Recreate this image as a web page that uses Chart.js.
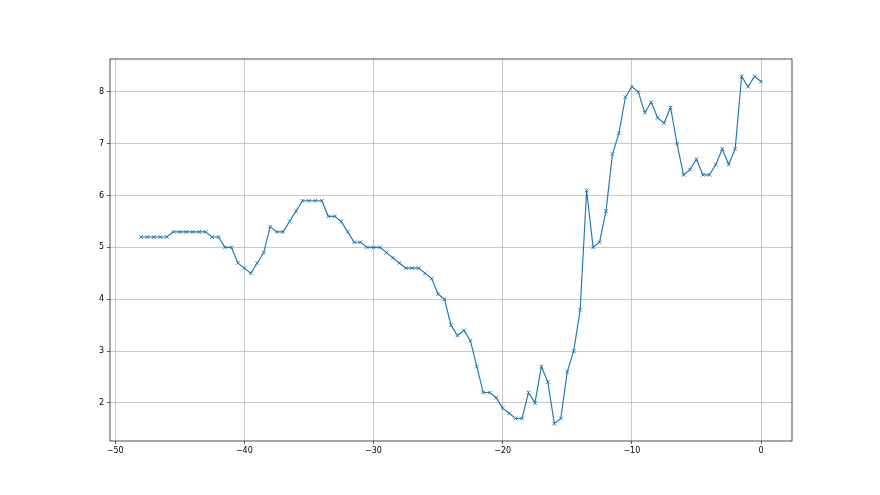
<!DOCTYPE html>
<html>
<head>
<meta charset="utf-8">
<script src="https://cdn.jsdelivr.net/npm/chart.js@4"></script>
<style>
  html, body { margin: 0; padding: 0; background: #fff; }
  #c { display: block; }
</style>
</head>
<body>
<canvas id="c" width="880" height="495"></canvas>
<script>
// values, x every 0.5 from -48 to 0
const xValues = [
  -48, -47.5, -47, -46.5, -46, -45.5, -45, -44.5, -44, -43.5,
  -43, -42.5, -42, -41.5, -41, -40.5, -40, -39.5, -39, -38.5,
  -38, -37.5, -37, -36.5, -36, -35.5, -35, -34.5, -34, -33.5,
  -33, -32.5, -32, -31.5, -31, -30.5, -30, -29.5, -29, -28.5,
  -28, -27.5, -27, -26.5, -26, -25.5, -25, -24.5, -24, -23.5,
  -23, -22.5, -22, -21.5, -21, -20.5, -20, -19.5, -19, -18.5,
  -18, -17.5, -17, -16.5, -16, -15.5, -15, -14.5, -14, -13.5,
  -13, -12.5, -12, -11.5, -11, -10.5, -10, -9.5, -9, -8.5,
  -8, -7.5, -7, -6.5, -6, -5.5, -5, -4.5, -4, -3.5,
  -3, -2.5, -2, -1.5, -1, -0.5, 0
];
const yValues = [
  5.2, 5.2, 5.2, 5.2, 5.2, 5.3, 5.3, 5.3, 5.3, 5.3,
  5.3, 5.2, 5.2, 5.0, 5.0, 4.7, 4.6, 4.5, 4.7, 4.9,
  5.4, 5.3, 5.3, 5.5, 5.7, 5.9, 5.9, 5.9, 5.9, 5.6,
  5.6, 5.5, 5.3, 5.1, 5.1, 5.0, 5.0, 5.0, 4.9, 4.8,
  4.7, 4.6, 4.6, 4.6, 4.5, 4.4, 4.1, 4.0, 3.5, 3.3,
  3.4, 3.2, 2.7, 2.2, 2.2, 2.1, 1.9, 1.8, 1.7, 1.7,
  2.2, 2.0, 2.7, 2.4, 1.6, 1.7, 2.6, 3.0, 3.8, 6.1,
  5.0, 5.1, 5.7, 6.8, 7.2, 7.9, 8.1, 8.0, 7.6, 7.8,
  7.5, 7.4, 7.7, 7.0, 6.4, 6.5, 6.7, 6.4, 6.4, 6.6,
  6.9, 6.6, 6.9, 8.3, 8.1, 8.3, 8.2
];
const xTicks = [-50, -40, -30, -20, -10, 0];
const yTicks = [2, 3, 4, 5, 6, 7, 8];

const points = xValues.map((x, i) => ({ x: x, y: yValues[i] }));

function minusLabel(v) {
  return String(v).replace('-', '\u2212');
}

// box around the plot area like matplotlib spines
const frame = {
  id: 'frame',
  afterDraw(chart) {
    const a = chart.chartArea;
    const ctx = chart.ctx;
    ctx.save();
    ctx.strokeStyle = '#222';
    ctx.lineWidth = 0.8;
    ctx.strokeRect(a.left, a.top, a.right - a.left, a.bottom - a.top);
    ctx.restore();
  }
};

const ctx = document.getElementById('c').getContext('2d');
new Chart(ctx, {
  type: 'scatter',
  data: {
    datasets: [{
      data: points,
      showLine: true,
      borderColor: '#1f77b4',
      backgroundColor: '#1f77b4',
      borderWidth: 1.15,
      pointStyle: 'crossRot',
      pointRadius: 2.6,
      pointBorderWidth: 0.9,
      pointBorderColor: '#1f77b4',
      tension: 0
    }]
  },
  options: {
    responsive: false,
    animation: false,
    devicePixelRatio: 1,
    layout: { padding: { top: 59, right: 88, left: 0, bottom: 0 } },
    plugins: { legend: { display: false }, tooltip: { enabled: false } },
    scales: {
      x: {
        type: 'linear',
        min: -50.4,
        max: 2.4,
        afterBuildTicks: s => { s.ticks = xTicks.map(v => ({ value: v })); },
        afterFit: s => { s.height = 54; },
        grid: { color: '#b0b0b0', lineWidth: 0.7, tickColor: '#222', tickLength: 3 },
        border: { display: false },
        ticks: {
          color: '#000',
          font: { family: 'DejaVu Sans', size: 8 },
          padding: 2,
          maxRotation: 0,
          callback: v => minusLabel(v)
        }
      },
      y: {
        type: 'linear',
        min: 1.265,
        max: 8.635,
        afterBuildTicks: s => { s.ticks = yTicks.map(v => ({ value: v })); },
        afterFit: s => { s.width = 110; },
        grid: { color: '#b0b0b0', lineWidth: 0.7, tickColor: '#222', tickLength: 3 },
        border: { display: false },
        ticks: {
          color: '#000',
          font: { family: 'DejaVu Sans', size: 8 },
          padding: 3,
          callback: v => minusLabel(v)
        }
      }
    }
  },
  plugins: [frame]
});
</script>
</body>
</html>
